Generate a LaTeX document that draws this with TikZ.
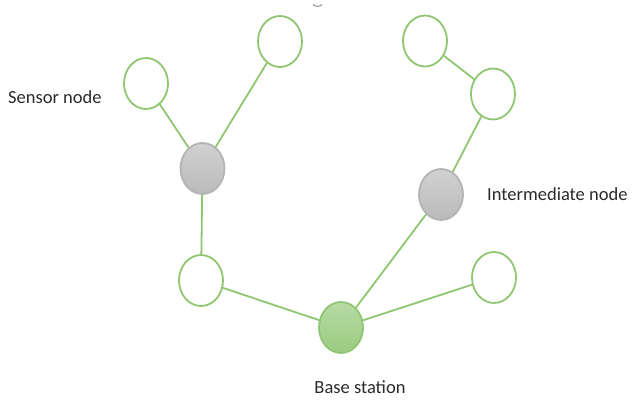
\documentclass[tikz,border=0pt]{standalone}
\usepackage{fontspec}
\setmainfont{Carlito}
\usetikzlibrary{shapes.geometric}
\definecolor{leafgreen}{HTML}{8FC672}
\definecolor{relaygray}{HTML}{B4B4B4}
\definecolor{labeltext}{HTML}{2A2A2A}
\tikzset{
  netnode/.style={ellipse, minimum width=44pt, minimum height=51pt, inner sep=0pt, line width=1.8pt},
  sensor/.style={netnode, draw=leafgreen, fill=white},
  relay/.style={netnode, draw=relaygray, top color=black!18, bottom color=black!27},
  sink/.style={netnode, draw=leafgreen, top color=leafgreen!65, bottom color=leafgreen!90},
  link/.style={draw=leafgreen, line width=1.8pt},
  caption/.style={font=\fontsize{18.5}{20}\selectfont, text=labeltext, inner sep=0pt}
}
\begin{document}
\begin{tikzpicture}[x=1pt, y=-1pt]
  \useasboundingbox (0,0) rectangle (633,403);
  % sensors
  \node[sensor] (s1) at (146,83.5) {};
  \node[sensor] (s2) at (280,41.5) {};
  \node[sensor] (s3) at (201,280.5) {};
  \node[sensor] (s4) at (425,41) {};
  \node[sensor] (s5) at (493,94) {};
  \node[sensor] (s6) at (494,277.5) {};
  % intermediate nodes
  \node[relay] (r1) at (202.5,168.5) {};
  \node[relay] (r2) at (441,194.5) {};
  % base station
  \node[sink] (bs) at (341,327.5) {};
  % links
  \draw[link] (s1) -- (r1);
  \draw[link] (s2) -- (r1);
  \draw[link] (r1) -- (s3);
  \draw[link] (s3) -- (bs);
  \draw[link] (bs) -- (r2);
  \draw[link] (bs) -- (s6);
  \draw[link] (r2) -- (s5);
  \draw[link] (s5) -- (s4);
  % labels
  \node[caption, anchor=west] (lsensor) at (8,97) {Sensor node};
  \node[caption, anchor=west] (lrelay) at (487,194) {Intermediate node};
  \node[caption] (lbase) at (360,387) {Base station};
  % small mark at the top edge
  \draw[black!45, line width=1pt] (313,4.5) .. controls (315,7) and (320,7) .. (322,4.5);
\end{tikzpicture}
\end{document}
